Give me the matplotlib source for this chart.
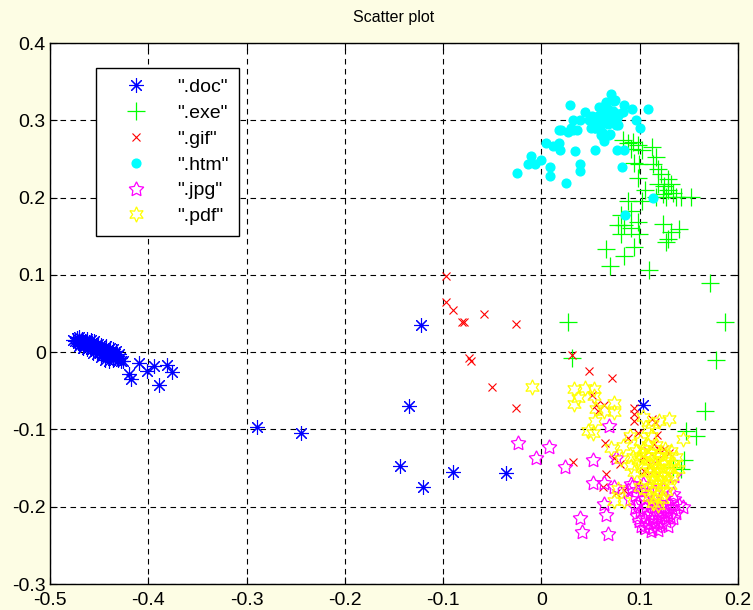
import matplotlib
matplotlib.use("Agg")
import matplotlib.pyplot as plt
from matplotlib.ticker import FuncFormatter

plt.rcParams["font.family"] = ["Liberation Sans", "DejaVu Sans"]
plt.rcParams["axes.unicode_minus"] = False

# ".doc"
doc_x = [-0.477, -0.475, -0.473, -0.472, -0.471, -0.470, -0.469, -0.468, -0.467, -0.466,
         -0.465, -0.464, -0.463, -0.462, -0.461, -0.460, -0.459, -0.458, -0.457, -0.456,
         -0.455, -0.454, -0.453, -0.452, -0.451, -0.450, -0.449, -0.448, -0.447, -0.446,
         -0.445, -0.444, -0.443, -0.442, -0.441, -0.440, -0.439, -0.438, -0.437, -0.436,
         -0.435, -0.434, -0.433, -0.432, -0.431, -0.430, -0.429, -0.428, -0.462, -0.466,
         -0.470, -0.458, -0.452, -0.448, -0.444, -0.456, -0.440, -0.436,
         -0.426, -0.420, -0.418, -0.409, -0.401, -0.394, -0.389, -0.381, -0.376,
         -0.289, -0.245, -0.123, -0.135, -0.144, -0.120, -0.090, -0.036, 0.103]
doc_y = [0.016, 0.014, 0.018, 0.012, 0.016, 0.019, 0.010, 0.014, 0.017, 0.012,
         0.008, 0.015, 0.011, 0.017, 0.007, 0.013, 0.010, 0.004, 0.012, 0.008,
         0.014, 0.002, 0.009, 0.005, 0.011, 0.000, 0.006, 0.009, 0.003, -0.002,
         0.005, 0.001, 0.008, -0.004, 0.003, -0.001, 0.006, -0.006, 0.000, 0.004,
         -0.003, -0.008, 0.002, -0.005, -0.010, -0.002, -0.007, -0.012, 0.004, 0.005,
         0.008, 0.016, -0.002, -0.006, -0.010, -0.001, -0.012, -0.010,
         -0.012, -0.028, -0.035, -0.014, -0.025, -0.018, -0.043, -0.016, -0.026,
         -0.097, -0.104, 0.035, -0.070, -0.147, -0.174, -0.155, -0.157, -0.068]

# ".exe"
exe_x = [0.083, 0.088, 0.093, 0.091, 0.098, 0.102, 0.112, 0.117, 0.114, 0.094,
         0.099, 0.119, 0.122, 0.098, 0.129, 0.132, 0.125, 0.119, 0.129, 0.124,
         0.134, 0.137, 0.142, 0.152, 0.127, 0.117, 0.105, 0.088, 0.102, 0.091,
         0.081, 0.078, 0.084, 0.098, 0.091, 0.099, 0.081, 0.124, 0.132, 0.140,
         0.129, 0.127, 0.066, 0.094, 0.084, 0.070, 0.109, 0.172, 0.027, 0.031,
         0.187, 0.166, 0.147, 0.157, 0.145, 0.142, 0.134, 0.178]
exe_y = [0.275, 0.270, 0.272, 0.263, 0.268, 0.262, 0.266, 0.253, 0.243, 0.245,
         0.243, 0.237, 0.230, 0.225, 0.224, 0.218, 0.215, 0.218, 0.210, 0.204,
         0.206, 0.201, 0.201, 0.201, 0.201, 0.201, 0.210, 0.195, 0.195, 0.182,
         0.177, 0.165, 0.165, 0.169, 0.161, 0.153, 0.153, 0.166, 0.156, 0.159,
         0.147, 0.143, 0.134, 0.136, 0.124, 0.112, 0.106, 0.089, 0.039, -0.008,
         0.039, -0.076, -0.102, -0.108, -0.139, -0.151, -0.149, -0.010]

# ".gif"
gif_x = [-0.097, -0.097, -0.090, -0.081, -0.079, -0.058, -0.026, -0.074, -0.072, -0.050,
         -0.026, 0.031, 0.032, 0.048, 0.072, 0.051, 0.065, 0.066, 0.063, 0.074,
         0.080, 0.088, 0.094, 0.094, 0.094, 0.112, 0.116, 0.098, 0.118, 0.056,
         0.064, 0.058, 0.098, 0.084, 0.076, 0.115, 0.120, 0.130, 0.125, 0.103,
         0.104, 0.110, 0.113, 0.118, 0.108]
gif_y = [0.099, 0.065, 0.054, 0.039, 0.039, 0.049, 0.036, -0.008, -0.011, -0.045,
         -0.072, -0.004, -0.142, -0.025, -0.033, -0.056, -0.118, -0.158, -0.175, -0.137,
         -0.145, -0.111, -0.072, -0.080, -0.089, -0.087, -0.091, -0.104, -0.107, -0.068,
         -0.068, -0.076, -0.170, -0.179, -0.182, -0.119, -0.126, -0.130, -0.125, -0.136,
         -0.154, -0.145, -0.153, -0.140, -0.128]

# ".htm"
htm_x = [0.071, 0.066, 0.074, 0.084, 0.092, 0.108, 0.029, 0.059, 0.068, 0.044,
         0.051, 0.058, 0.064, 0.071, 0.078, 0.083, 0.032, 0.039, 0.048, 0.056,
         0.063, 0.069, 0.077, 0.076, 0.068, 0.096, 0.100, 0.030, 0.036, 0.027,
         0.018, 0.050, 0.055, 0.062, 0.070, 0.063, 0.064, 0.005, 0.012, 0.018,
         0.019, 0.034, 0.055, 0.077, 0.084, -0.011, -0.014, -0.007, 0.000, 0.009,
         0.039, 0.039, -0.025, 0.009, 0.025, 0.082, 0.113, 0.085, 0.075, 0.066,
         0.079, 0.071, 0.064, 0.058, 0.061, 0.069, 0.078, 0.054, 0.020, 0.032,
         0.061, 0.069, 0.073, 0.067, 0.060]
htm_y = [0.334, 0.324, 0.325, 0.320, 0.315, 0.314, 0.320, 0.317, 0.315, 0.311,
         0.305, 0.306, 0.308, 0.306, 0.308, 0.311, 0.301, 0.300, 0.301, 0.301,
         0.299, 0.300, 0.303, 0.294, 0.295, 0.300, 0.290, 0.290, 0.287, 0.285,
         0.287, 0.290, 0.290, 0.285, 0.282, 0.278, 0.273, 0.270, 0.267, 0.270,
         0.262, 0.260, 0.262, 0.262, 0.262, 0.254, 0.244, 0.244, 0.248, 0.240,
         0.244, 0.234, 0.232, 0.228, 0.219, 0.240, 0.200, 0.177, 0.326, 0.323,
         0.308, 0.302, 0.298, 0.304, 0.295, 0.296, 0.294, 0.290, 0.288, 0.288,
         0.281, 0.281, 0.312, 0.310, 0.300]

# ".jpg"
jpg_x = [-0.024, 0.008, 0.024, -0.006, 0.052, 0.069, 0.052, 0.064, 0.064, 0.066,
         0.039, 0.041, 0.068, 0.076, 0.074, 0.144, 0.091, 0.134, 0.135,
         0.092, 0.095, 0.098, 0.100, 0.102, 0.104, 0.105, 0.106, 0.108, 0.108,
         0.110, 0.111, 0.112, 0.113, 0.114, 0.115, 0.116, 0.117, 0.118, 0.119,
         0.120, 0.121, 0.122, 0.123, 0.124, 0.125, 0.126, 0.127, 0.128, 0.130,
         0.131, 0.133, 0.135, 0.137, 0.140, 0.097, 0.101, 0.095, 0.090, 0.088,
         0.103, 0.109, 0.116, 0.124, 0.111, 0.118, 0.105, 0.099, 0.129, 0.134]
jpg_y = [-0.117, -0.123, -0.149, -0.137, -0.140, -0.095, -0.169, -0.169, -0.196, -0.211,
         -0.215, -0.233, -0.235, -0.137, -0.175, -0.200, -0.171, -0.183, -0.160,
         -0.175, -0.185, -0.195, -0.205, -0.180, -0.215, -0.190, -0.200, -0.222, -0.185,
         -0.210, -0.195, -0.228, -0.205, -0.215, -0.190, -0.220, -0.200, -0.210, -0.230,
         -0.195, -0.215, -0.205, -0.222, -0.190, -0.212, -0.200, -0.218, -0.207, -0.195,
         -0.212, -0.202, -0.190, -0.208, -0.198, -0.212, -0.225, -0.200, -0.190, -0.178,
         -0.170, -0.175, -0.180, -0.178, -0.232, -0.225, -0.228, -0.218, -0.225, -0.215]

# ".pdf"
pdf_x = [-0.010, 0.033, 0.044, 0.053, 0.033, 0.037, 0.053, 0.056, 0.064, 0.074,
         0.074, 0.054, 0.047, 0.052, 0.103, 0.112, 0.120, 0.130, 0.144, 0.083,
         0.090, 0.071, 0.081, 0.093, 0.091, 0.100, 0.132, 0.137, 0.125, 0.132,
         0.139, 0.078, 0.074, 0.084,
         0.100, 0.103, 0.105, 0.107, 0.108, 0.110, 0.110, 0.112, 0.112, 0.113,
         0.114, 0.115, 0.115, 0.116, 0.117, 0.118, 0.118, 0.119, 0.120, 0.120,
         0.121, 0.122, 0.122, 0.123, 0.124, 0.125, 0.126, 0.127, 0.128, 0.130,
         0.131, 0.133, 0.135, 0.104, 0.106, 0.102, 0.098, 0.096, 0.109, 0.113,
         0.117, 0.121, 0.126, 0.129, 0.111, 0.108, 0.116, 0.119, 0.100, 0.094]
pdf_y = [-0.045, -0.048, -0.046, -0.048, -0.067, -0.059, -0.057, -0.074, -0.076, -0.066,
         -0.078, -0.089, -0.102, -0.104, -0.084, -0.093, -0.089, -0.087, -0.112, -0.121,
         -0.109, -0.124, -0.138, -0.136, -0.147, -0.134, -0.128, -0.136, -0.141, -0.151,
         -0.151, -0.177, -0.192, -0.192,
         -0.115, -0.125, -0.135, -0.145, -0.120, -0.155, -0.130, -0.165, -0.140, -0.150,
         -0.175, -0.160, -0.125, -0.145, -0.170, -0.155, -0.185, -0.135, -0.165, -0.150,
         -0.178, -0.160, -0.140, -0.190, -0.170, -0.155, -0.145, -0.180, -0.165, -0.150,
         -0.172, -0.160, -0.145, -0.165, -0.178, -0.150, -0.140, -0.128, -0.188, -0.195,
         -0.120, -0.130, -0.125, -0.135, -0.108, -0.100, -0.190, -0.198, -0.175, -0.155]

x_ticks = [-0.5, -0.4, -0.3, -0.2, -0.1, 0, 0.1, 0.2]
y_ticks = [-0.3, -0.2, -0.1, 0, 0.1, 0.2, 0.3, 0.4]

fig = plt.figure(figsize=(7.53, 6.10), dpi=100, facecolor="#fdfde4")
ax = fig.add_axes([0.0664, 0.0426, 0.9137, 0.8869])

ax.plot(doc_x, doc_y, linestyle="none", marker=(8, 2, 0), markersize=10.5,
        color="#0000ff", markeredgewidth=0.8, label='".doc"')
ax.plot(exe_x, exe_y, linestyle="none", marker="+", markersize=13,
        color="#00ff00", markeredgewidth=0.9, label='".exe"')
ax.plot(gif_x, gif_y, linestyle="none", marker="x", markersize=6,
        color="#ff0000", markeredgewidth=0.8, label='".gif"')
ax.plot(htm_x, htm_y, linestyle="none", marker="o", markersize=6.3,
        color="#00ffff", label='".htm"')
ax.plot(jpg_x, jpg_y, linestyle="none", marker=(5, 1, 0), markersize=11,
        color="#ff00ff", markerfacecolor="none", markeredgewidth=0.9, label='".jpg"')
ax.plot(pdf_x, pdf_y, linestyle="none", marker=(6, 1, 0), markersize=11,
        color="#ffff00", markerfacecolor="none", markeredgewidth=0.9, label='".pdf"')

ax.set_xlim(-0.5, 0.2)
ax.set_ylim(-0.3, 0.4)
ax.set_xticks(x_ticks)
ax.set_yticks(y_ticks)
fmt = FuncFormatter(lambda v, p: "0" if abs(v) < 1e-9 else f"{v:g}")
ax.xaxis.set_major_formatter(fmt)
ax.yaxis.set_major_formatter(fmt)
ax.tick_params(direction="in", length=5, labelsize=14, top=True, right=True)
ax.tick_params(axis="x", pad=6)
ax.tick_params(axis="y", pad=3)
ax.grid(True, color="black", linestyle=(0, (5, 4)), linewidth=0.8)
for s in ax.spines.values():
    s.set_linewidth(1.0)

ax.set_title("Scatter plot", fontsize=11.5, pad=15)

leg = ax.legend(loc="upper left", bbox_to_anchor=(0.067, 0.954), borderaxespad=0,
                fancybox=False, framealpha=1, edgecolor="black", fontsize=14,
                handlelength=3.0, handletextpad=0.6, labelspacing=0.42, borderpad=0.55)
leg.get_frame().set_linewidth(1.0)

fig.savefig("out.png", dpi=100, facecolor=fig.get_facecolor())
